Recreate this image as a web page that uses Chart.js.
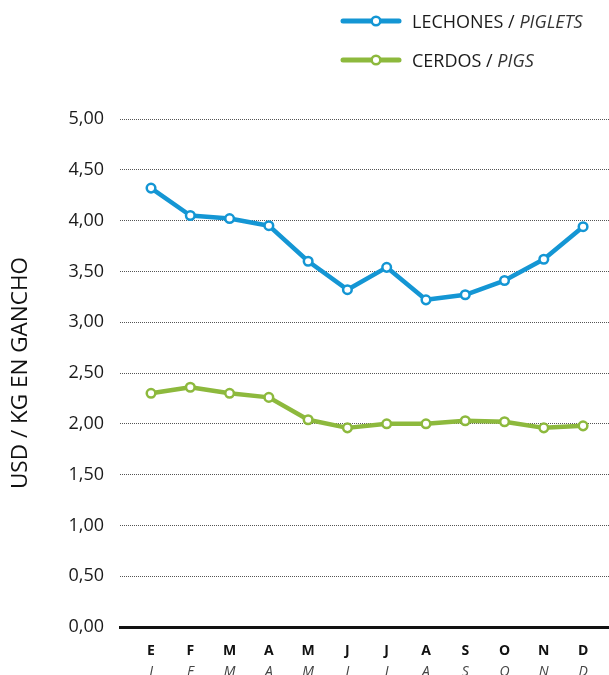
<!DOCTYPE html>
<html>
<head>
<meta charset="utf-8">
<script src="https://cdn.jsdelivr.net/npm/chart.js@4"></script>
<style>
  body { margin: 0; overflow: hidden; background: #fff; font-family: "Open Sans", sans-serif; }
  #wrap { position: relative; width: 609px; height: 690px; }
  .legend-row { position: absolute; left: 340px; height: 20px; display: flex; align-items: center; color: #1a1a1a; font-size: 18px; }
  .legend-row svg { display: block; }
  .legend-row span.txt { margin-left: 10px; white-space: nowrap; }
  .legend-row em { color: #333; }
</style>
</head>
<body>
<div id="wrap">
  <canvas id="chart"></canvas>
  <div class="legend-row" style="top:11px">
    <svg width="62" height="20"><line x1="3" y1="10" x2="59" y2="10" stroke="#1496d4" stroke-width="5" stroke-linecap="round"/><circle cx="36" cy="10" r="4.3" fill="#fff" stroke="#1496d4" stroke-width="2.5"/></svg>
    <span class="txt">LECHONES / <em>PIGLETS</em></span>
  </div>
  <div class="legend-row" style="top:50px">
    <svg width="62" height="20"><line x1="3" y1="10" x2="59" y2="10" stroke="#8db93d" stroke-width="5" stroke-linecap="round"/><circle cx="36" cy="10" r="4.3" fill="#fff" stroke="#8db93d" stroke-width="2.5"/></svg>
    <span class="txt">CERDOS / <em>PIGS</em></span>
  </div>
</div>
<script>
// month initials: Spanish (bold row) and English (italic row)
const monthsEs = ['E', 'F', 'M', 'A', 'M', 'J', 'J', 'A', 'S', 'O', 'N', 'D'];
const monthsEn = ['J', 'F', 'M', 'A', 'M', 'J', 'J', 'A', 'S', 'O', 'N', 'D'];

// USD / kg en gancho
const lechones = [4.32, 4.05, 4.02, 3.95, 3.60, 3.32, 3.54, 3.22, 3.27, 3.41, 3.62, 3.94];
const cerdos = [2.30, 2.36, 2.30, 2.26, 2.04, 1.96, 2.00, 2.00, 2.03, 2.02, 1.96, 1.98];

const BLUE = '#1496d4';
const GREEN = '#8db93d';
const FONT = '"Open Sans", sans-serif';

function toPoints(values) {
    return values.map((v, i) => ({ x: i, y: v }));
}

function monthTicks(scale) {
    scale.ticks = monthsEs.map((_, i) => ({ value: i }));
}

// fixed box sizes so the plot area lands where the original has it
function fixSize(size) {
    return function(scale) {
        if (scale.isHorizontal()) {
            scale.height = size;
        } else {
            scale.width = size;
        }
        scale.paddingLeft = 0;
        scale.paddingRight = 0;
        scale.paddingTop = 0;
        scale.paddingBottom = 0;
    };
}

function lineDataset(label, values, color) {
    return {
        label: label,
        data: toPoints(values),
        borderColor: color,
        backgroundColor: color,
        borderWidth: 4.5,
        borderJoinStyle: 'round',
        pointRadius: 4.3,
        pointBorderWidth: 2.5,
        pointBackgroundColor: '#fff',
        pointBorderColor: color,
        tension: 0,
        xAxisID: 'x',
        yAxisID: 'y'
    };
}

new Chart(document.getElementById('chart'), {
    type: 'line',
    data: {
        datasets: [
            lineDataset('LECHONES / PIGLETS', lechones, BLUE),
            lineDataset('CERDOS / PIGS', cerdos, GREEN)
        ]
    },
    options: {
        responsive: true,
        maintainAspectRatio: false,
        animation: false,
        layout: { autoPadding: false, padding: { top: 119, left: 0, right: 0, bottom: 0 } },
        plugins: {
            legend: { display: false },
            tooltip: { enabled: false }
        },
        scales: {
            x: {
                type: 'linear',
                position: 'bottom',
                weight: 0,
                min: -0.79,
                max: 11.66,
                afterBuildTicks: monthTicks,
                afterFit: fixSize(34),
                grid: { display: false, drawTicks: false },
                border: { display: true, color: '#111', width: 3 },
                ticks: {
                    padding: 16,
                    autoSkip: false,
                    maxRotation: 0,
                    color: '#111',
                    font: { family: FONT, size: 14, weight: 'bold' },
                    callback: (value) => monthsEs[value]
                }
            },
            x2: {
                type: 'linear',
                position: 'bottom',
                weight: 1,
                display: true,
                min: -0.79,
                max: 11.66,
                afterBuildTicks: monthTicks,
                afterFit: fixSize(29),
                grid: { display: false, drawTicks: false },
                border: { display: false },
                ticks: {
                    padding: 3,
                    autoSkip: false,
                    maxRotation: 0,
                    color: '#444',
                    font: { family: FONT, size: 14, style: 'italic' },
                    callback: (value) => monthsEn[value]
                }
            },
            y: {
                min: 0,
                max: 5,
                afterFit: fixSize(120),
                ticks: {
                    stepSize: 0.5,
                    padding: 16,
                    color: '#1a1a1a',
                    font: { family: FONT, size: 18 },
                    callback: (value) => value.toFixed(2).replace('.', ',')
                },
                grid: { color: '#555', lineWidth: 1, drawTicks: false },
                border: { display: false, dash: [1, 1] },
                title: {
                    display: true,
                    text: 'USD / KG EN GANCHO',
                    color: '#111',
                    font: { family: FONT, size: 22.5 },
                    padding: { top: 7, bottom: 10 }
                }
            }
        }
    }
});
</script>
</body>
</html>
